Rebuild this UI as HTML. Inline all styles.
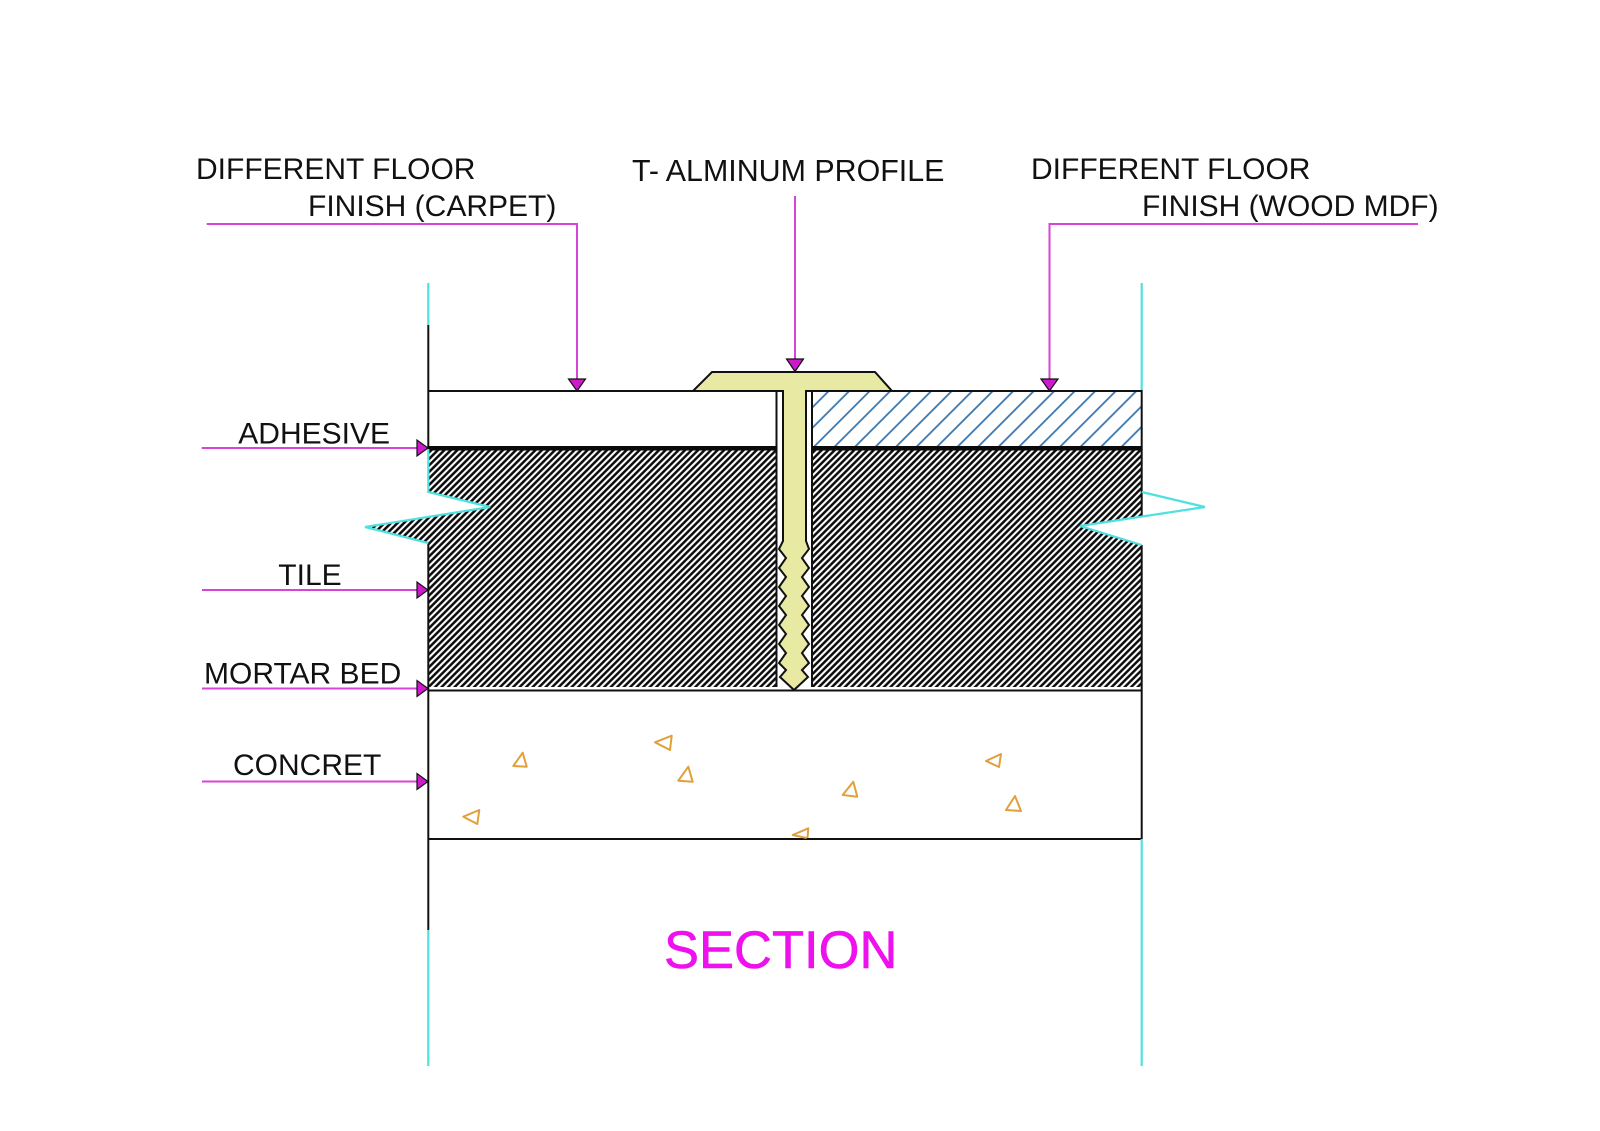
<!DOCTYPE html>
<html>
<head>
<meta charset="utf-8">
<style>
  html,body{margin:0;padding:0;background:#fff;}
  svg{display:block;}
  text{font-family:"Liberation Sans", Arial, sans-serif;}
</style>
</head>
<body>
<svg width="1600" height="1131" viewBox="0 0 1600 1131" xmlns="http://www.w3.org/2000/svg">
  <defs>
    <pattern id="tile" width="4.6" height="20" patternUnits="userSpaceOnUse" patternTransform="rotate(45)">
      <line x1="2.3" y1="-2" x2="2.3" y2="22" stroke="#0a0a0a" stroke-width="2.5"/>
    </pattern>
    <pattern id="wood" width="14.5" height="30" patternUnits="userSpaceOnUse" patternTransform="rotate(45)">
      <line x1="7" y1="-2" x2="7" y2="32" stroke="#3a76ad" stroke-width="1.8"/>
    </pattern>
  </defs>

  <rect width="1600" height="1131" fill="#fff"/>

  <!-- hatched tile / mortar blocks -->
  <polygon points="428,450 776,450 776,687 428,687 428,543 365,527 490,507 428,492" fill="url(#tile)"/>
  <polygon points="812,450 1141.7,450 1141.7,516 1080,526 1141.7,545 1141.7,687 812,687" fill="url(#tile)"/>

  <!-- wood MDF hatch -->
  <rect x="812" y="392" width="329.7" height="54" fill="url(#wood)"/>

  <!-- outlines -->
  <g stroke="#111" stroke-width="2" fill="none">
    <line x1="428" y1="391" x2="777" y2="391"/>
    <line x1="812" y1="391" x2="1141.7" y2="391"/>
    <line x1="776.5" y1="391" x2="776.5" y2="687"/>
    <line x1="812" y1="391" x2="812" y2="687"/>
    <line x1="428" y1="690.5" x2="1141.7" y2="690.5"/>
    <line x1="428" y1="839" x2="1141.7" y2="839"/>
    <line x1="428.3" y1="325" x2="428.3" y2="448"/>
    <line x1="428.3" y1="543" x2="428.3" y2="930"/>
    <line x1="1141.7" y1="390" x2="1141.7" y2="516"/>
    <line x1="1141.7" y1="545" x2="1141.7" y2="839"/>
  </g>
  <!-- adhesive thick lines -->
  <rect x="428" y="446" width="349" height="4.5" fill="#0a0a0a"/>
  <rect x="812" y="446" width="330" height="4.5" fill="#0a0a0a"/>

  <!-- T aluminium profile -->
  <path d="M693,391 L712,372 L875,372 L892,391 L806,391 L806,541 L809,549 L802,558 L809,568 L802,577 L809,587 L802,596 L809,606 L802,615 L809,625 L802,634 L809,644 L802,653 L809,663 L802,670 L808,677 L794,690 L780,677 L786,670 L779,663 L786,653 L779,644 L786,634 L779,625 L786,615 L779,606 L786,596 L779,587 L786,577 L779,568 L786,558 L779,549 L783,541 L783,391 Z" fill="#e8e9a2" stroke="#111" stroke-width="2" stroke-linejoin="miter"/>

  <!-- cyan lines -->
  <g stroke="#4fe0e0" stroke-width="2.2" fill="none">
    <line x1="428.3" y1="283" x2="428.3" y2="325"/>
    <line x1="428.3" y1="930" x2="428.3" y2="1066"/>
    <line x1="1141.7" y1="283" x2="1141.7" y2="390"/>
    <line x1="1141.7" y1="839" x2="1141.7" y2="1066"/>
    <polyline points="428.3,449 428.3,492 490,507 365,527 428.3,543"/>
    <polyline points="1141.7,492 1205,507 1080,526 1141.7,545"/>
  </g>

  <!-- concrete aggregate triangles -->
  <g stroke="#e0a03c" stroke-width="2" fill="none" stroke-linejoin="round">
    <polygon points="522.7,752.7 526.7,766.7 513.3,766"/>
    <polygon points="479.3,810 463.3,816.7 477.3,824"/>
    <polygon points="671.7,735.7 655,742.3 670,750"/>
    <polygon points="688.3,766.7 678.3,780.7 692.7,781.7"/>
    <polygon points="853.3,781.7 842.7,795 857.3,796.7"/>
    <polyline points="806.7,838 792.7,835 808.3,828.3 807.5,838"/>
    <polygon points="1001,754 986,761 999,767"/>
    <polygon points="1015,796 1006,810 1021,811"/>
  </g>

  <!-- leader lines -->
  <g stroke="#d744d7" stroke-width="2" fill="none">
    <polyline points="206.7,224 577,224 577,380"/>
    <line x1="795" y1="196" x2="795" y2="360"/>
    <polyline points="1418,224 1049.5,224 1049.5,380"/>
    <line x1="201.7" y1="448" x2="418" y2="448"/>
    <line x1="202" y1="590" x2="418" y2="590"/>
    <line x1="202" y1="688.5" x2="418" y2="688.5"/>
    <line x1="202" y1="781.5" x2="418" y2="781.5"/>
  </g>

  <!-- arrowheads -->
  <g fill="#cc1acc" stroke="#111" stroke-width="1.2" stroke-linejoin="miter">
    <polygon points="568.5,379 585.5,379 577,391"/>
    <polygon points="786.5,359 803.5,359 795,371.5"/>
    <polygon points="1041,379 1058,379 1049.5,391"/>
    <polygon points="417,440 417,456 428,448"/>
    <polygon points="417,582 417,598 428,590"/>
    <polygon points="417,680.5 417,696.5 428,688.5"/>
    <polygon points="417,773.5 417,789.5 428,781.5"/>
  </g>

  <!-- labels -->
  <g font-size="30" fill="#111">
    <text x="196" y="179">DIFFERENT FLOOR</text>
    <text x="308" y="216">FINISH (CARPET)</text>
    <text x="632" y="181" font-size="30.4">T- ALMINUM PROFILE</text>
    <text x="1031" y="179">DIFFERENT FLOOR</text>
    <text x="1142" y="216">FINISH (WOOD MDF)</text>
    <text x="238.3" y="443.3">ADHESIVE</text>
    <text x="278.3" y="585">TILE</text>
    <text x="204" y="683.3">MORTAR BED</text>
    <text x="233" y="775">CONCRET</text>
  </g>
  <text x="664" y="968" font-size="52.5" fill="#ee11ee" stroke="#ee11ee" stroke-width="0.6">SECTION</text>
</svg>
</body>
</html>
